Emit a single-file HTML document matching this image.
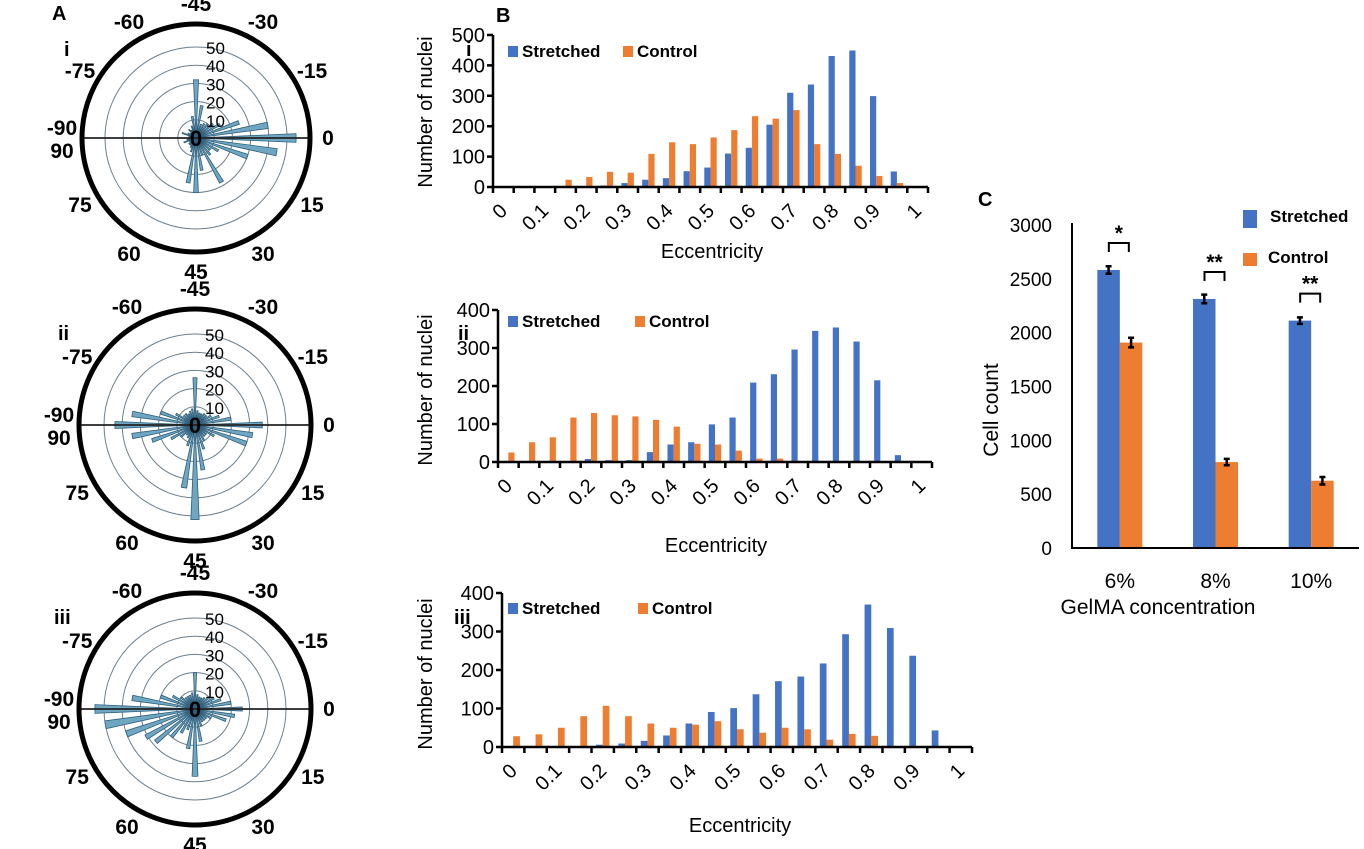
<!DOCTYPE html>
<html><head><meta charset="utf-8">
<style>
html,body{margin:0;padding:0;background:#fff;}
svg{display:block;font-family:"Liberation Sans",Arial,sans-serif;}
</style></head>
<body>
<svg id="fig" width="1364" height="849" viewBox="0 0 1364 849" xmlns="http://www.w3.org/2000/svg">
<g font-weight="bold" font-size="20">
<text x="52" y="20">A</text>
<text x="64" y="56">i</text>
<text x="58" y="340">ii</text>
<text x="54" y="624">iii</text>
<text x="496" y="22">B</text>
<text x="466" y="56">i</text>
<text x="458" y="340">ii</text>
<text x="454" y="624">iii</text>
<text x="978" y="206">C</text>
</g>
</svg>
<script>
// ---------- data ----------
const histCategories = ["0","0.05","0.1","0.15","0.2","0.25","0.3","0.35","0.4","0.45","0.5","0.55","0.6","0.65","0.7","0.75","0.8","0.85","0.9","0.95","1"];
const histTickLabels = ["0","0.1","0.2","0.3","0.4","0.5","0.6","0.7","0.8","0.9","1"];
const h1Stretched = [0,0,0,0,0,5,13,24,29,52,64,110,129,205,310,337,431,449,299,51,0];
const h1Control   = [0,0,0,24,33,50,47,109,147,141,163,187,233,225,253,141,109,70,36,13,0];
const h2Stretched = [0,0,0,0,8,5,5,26,46,52,99,117,209,231,296,345,354,317,215,18,0];
const h2Control   = [25,52,65,117,129,123,120,111,93,48,46,30,9,9,0,0,0,0,0,0,0];
const h3Stretched = [0,0,0,0,6,9,16,30,61,91,101,137,171,183,217,293,370,309,237,43,0];
const h3Control   = [28,33,50,80,107,80,61,50,58,67,46,37,50,46,19,34,29,0,0,0,0];
const h1Ticks = [0,100,200,300,400,500];
const h23Ticks = [0,100,200,300,400];

const polarAngles = [-90,-85,-80,-75,-70,-65,-60,-55,-50,-45,-40,-35,-30,-25,-20,-15,-10,-5,0,5,10,15,20,25,30,35,40,45,50,55,60,65,70,75,80,85];
const polar1 = [3,4,8,5,4,6,5,7,12,32,18,8,9,10,12,15,25,40,55,45,30,14,10,12,28,10,18,30,25,8,6,5,5,4,7,5];
const polar2 = [44,35,20,12,8,8,7,8,9,26,8,7,7,8,8,10,14,20,37,32,30,12,8,8,10,14,25,52,35,12,8,7,10,15,25,35];
const polar3 = [55,35,20,14,10,8,8,8,9,20,8,7,7,8,10,12,15,20,26,22,18,10,8,8,8,10,18,37,22,12,15,20,28,31,40,50];
const polarRings = [10,20,30,40,50];
const polarAngleLabels = [-45,-30,-15,0,15,30,45,60,75,90,-90,-75,-60];

const cCategories = ["6%","8%","10%"];
const cStretched = [2582,2313,2112];
const cControl = [1908,798,625];
const cStretchedErr = [35,40,30];
const cControlErr = [45,30,35];
const cSignif = ["*","**","**"];
const cTicks = [0,500,1000,1500,2000,2500,3000];

// ---------- helpers ----------
const NS = "http://www.w3.org/2000/svg";
const svg = document.getElementById("fig");
function mk(tag, attrs, parent, txt){
  const e = document.createElementNS(NS, tag);
  for (const k in attrs) e.setAttribute(k, attrs[k]);
  if (txt !== undefined) e.textContent = txt;
  (parent||svg).appendChild(e);
  return e;
}
const BLUE = "#4472c4", ORANGE = "#ed7d31";

function histogram(name, x0, x1, yTop, y0, maxV, ticks, st, ct, legY, ctrlLegX, titleX, titleY, yTitleY){
  const g = mk("g", {});
  
  
  const n = histCategories.length;
  const cw = (x1 - x0) / n;
  const xs = i => x0 + cw * (i + 0.5);
  const ys = v => y0 - (v / maxV) * (y0 - yTop);
  const bw = cw * 0.3;
  for (let i = 0; i < n; i++) {
    if (st[i] > 0) {
      const r = mk("rect", {x: xs(i) - bw, y: ys(st[i]), width: bw, height: y0 - ys(st[i]), fill: BLUE}, g);
      
      
    }
    if (ct[i] > 0) {
      const r = mk("rect", {x: xs(i), y: ys(ct[i]), width: bw, height: y0 - ys(ct[i]), fill: ORANGE}, g);
      
      
    }
  }
  const ax = mk("path", {d: `M${x0},${yTop} V${y0} H${x1}`, stroke: "#000", "stroke-width": 2.5, fill: "none"}, g);
  
  
  let d = "";
  for (let i = 0; i <= n; i++) d += `M${x0 + cw * i},${y0} v6 `;
  ticks.forEach(t => { d += `M${x0},${ys(t)} h-6 `; });
  mk("path", {d, stroke: "#000", "stroke-width": 2.5}, g);
  ticks.forEach(t => {
    const tl = mk("text", {x: x0 - 8, y: ys(t) + 7, "text-anchor": "end", "font-size": 20}, g, String(t));
    
    
  });
  histTickLabels.forEach((lab, k) => {
    const cx = xs(k * 2) + 5, cy = y0 + 25;
    const tl = mk("text", {x: cx, y: cy, "text-anchor": "end", "font-size": 20, transform: `rotate(-45 ${cx} ${cy})`}, g, lab);
    
    
  });
  const xt = mk("text", {x: titleX, y: titleY, "text-anchor": "middle", "font-size": 20}, g, "Eccentricity");
  
  
  const yt = mk("text", {x: 432, y: yTitleY, "text-anchor": "middle", "font-size": 20, transform: `rotate(-90 432 ${yTitleY})`}, g, "Number  of nuclei");
  
  
  const lg = mk("g", {"font-weight": "bold", "font-size": 17}, g);
  
  
  mk("rect", {x: 508, y: legY - 11, width: 10, height: 11, fill: BLUE}, lg);
  const l1 = mk("text", {x: 522, y: legY}, lg, "Stretched");
  
  
  mk("rect", {x: ctrlLegX, y: legY - 11, width: 10, height: 11, fill: ORANGE}, lg);
  const l2 = mk("text", {x: ctrlLegX + 14, y: legY}, lg, "Control");
  
  
}

histogram("histogram-i", 493, 928, 35, 187, 500, h1Ticks, h1Stretched, h1Control, 57, 623, 712, 258, 112);
histogram("histogram-ii", 498, 932, 310, 462, 400, h23Ticks, h2Stretched, h2Control, 327, 635, 716, 552, 390);
histogram("histogram-iii", 502, 972, 593, 747, 400, h23Ticks, h3Stretched, h3Control, 614, 638, 740, 832, 674);

function polar(name, cx, cy, R, vals){
  const g = mk("g", {});
  
  
  const unit = 1.82; // px per count
  polarRings.forEach(r => {
    const c = mk("circle", {cx, cy, r: r * unit, fill: "none", stroke: "#6d7f8c", "stroke-width": 1}, g);
    
    
  });
  polarAngles.forEach((th, i) => {
    const v = vals[i];
    const a1 = (2 * th - 2.5) * Math.PI / 180, a2 = (2 * th + 2.5) * Math.PI / 180;
    const rr = v * unit;
    const p = mk("path", {d: `M${cx},${cy} L${cx + rr * Math.cos(a1)},${cy + rr * Math.sin(a1)} A${rr},${rr} 0 0 1 ${cx + rr * Math.cos(a2)},${cy + rr * Math.sin(a2)} Z`,
      fill: "#6fa6c2", stroke: "#2e5f7c", "stroke-width": 0.8}, g);
    
    
  });
  mk("line", {x1: cx - R, y1: cy, x2: cx + R, y2: cy, stroke: "#222", "stroke-width": 1.8}, g);
  const oc = mk("circle", {cx, cy, r: R, fill: "none", stroke: "#000", "stroke-width": 5}, g);
  
  
  mk("text", {x: cx, y: cy + 8, "text-anchor": "middle", "font-size": 22, "font-weight": "bold"}, g, "0");
  polarRings.forEach(r => {
    const t = mk("text", {x: cx + 10, y: cy - r * unit + 7, "font-size": 17}, g, String(r));
    
    
  });
  polarAngleLabels.forEach(th => {
    let a = 2 * th * Math.PI / 180;
    let lx = cx + (R + 20) * Math.cos(a), ly = cy + (R + 20) * Math.sin(a) + 7;
    if (th === 90) { lx = cx - R - 20; ly = cy + 20; }
    if (th === -90) { lx = cx - R - 20; ly = cy - 3; }
    if (th === 0) { lx = cx + R + 18; }
    const t = mk("text", {x: lx, y: ly, "text-anchor": "middle", "font-size": 21, "font-weight": "bold"}, g, String(th));
    
    
  });
}
polar("polar-i", 196, 138, 114, polar1);
polar("polar-ii", 195, 425, 116, polar2);
polar("polar-iii", 195, 709, 116, polar3);

// ---------- panel C ----------
(function(){
  const g = mk("g", {});
  
  
  const x0 = 1072, x1 = 1359, yTop = 225, y0 = 548, maxV = 3000;
  const cw = (x1 - x0) / cCategories.length;
  const ys = v => y0 - v / maxV * (y0 - yTop);
  const xs = i => x0 + cw * (i + 0.5);
  const bw = 22.5;
  cCategories.forEach((c, i) => {
    const b = mk("rect", {x: xs(i) - bw, y: ys(cStretched[i]), width: bw, height: y0 - ys(cStretched[i]), fill: BLUE}, g);
    
    
    const o = mk("rect", {x: xs(i), y: ys(cControl[i]), width: bw, height: y0 - ys(cControl[i]), fill: ORANGE}, g);
    
    
    [[xs(i) - bw / 2, cStretched[i], cStretchedErr[i]], [xs(i) + bw / 2, cControl[i], cControlErr[i]]].forEach(([ex, v, e]) => {
      const eb = mk("path", {d: `M${ex},${ys(v + e)} V${ys(v - e)} M${ex - 3},${ys(v + e)} h6 M${ex - 3},${ys(v - e)} h6`, stroke: "#000", "stroke-width": 2.5}, g);
      
      
    });
    const top = ys(cStretched[i]) - 27;
    const br = mk("path", {d: `M${xs(i) - 11},${top + 9} V${top} H${xs(i) + 9} V${top + 9}`, stroke: "#000", "stroke-width": 2, fill: "none"}, g);
    
    
    const st = mk("text", {x: xs(i) - 1, y: top - 3, "text-anchor": "middle", "font-size": 21, "font-weight": "bold"}, g, cSignif[i]);
    
    
    const xl = mk("text", {x: xs(i), y: 588, "text-anchor": "middle", "font-size": 21}, g, c);
    
    
  });
  mk("path", {d: `M${x0},${yTop - 2} V${y0} H${x1}`, stroke: "#000", "stroke-width": 2, fill: "none"}, g);
  cTicks.forEach(t => {
    const tl = mk("text", {x: 1052, y: ys(t) + 7, "text-anchor": "end", "font-size": 19}, g, String(t));
    
    
  });
  const xt = mk("text", {x: 1158, y: 614, "text-anchor": "middle", "font-size": 21}, g, "GelMA concentration");
  
  
  const yt = mk("text", {x: 998, y: 410, "text-anchor": "middle", "font-size": 21, transform: "rotate(-90 998 410)"}, g, "Cell count");
  
  
  const lg = mk("g", {"font-weight": "bold", "font-size": 17}, g);
  
  
  mk("rect", {x: 1243, y: 210, width: 14, height: 18, fill: BLUE}, lg);
  mk("text", {x: 1270, y: 222}, lg, "Stretched");
  mk("rect", {x: 1243, y: 253, width: 14, height: 13, fill: ORANGE}, lg);
  mk("text", {x: 1268, y: 263}, lg, "Control");
})();
</script>
</body></html>
